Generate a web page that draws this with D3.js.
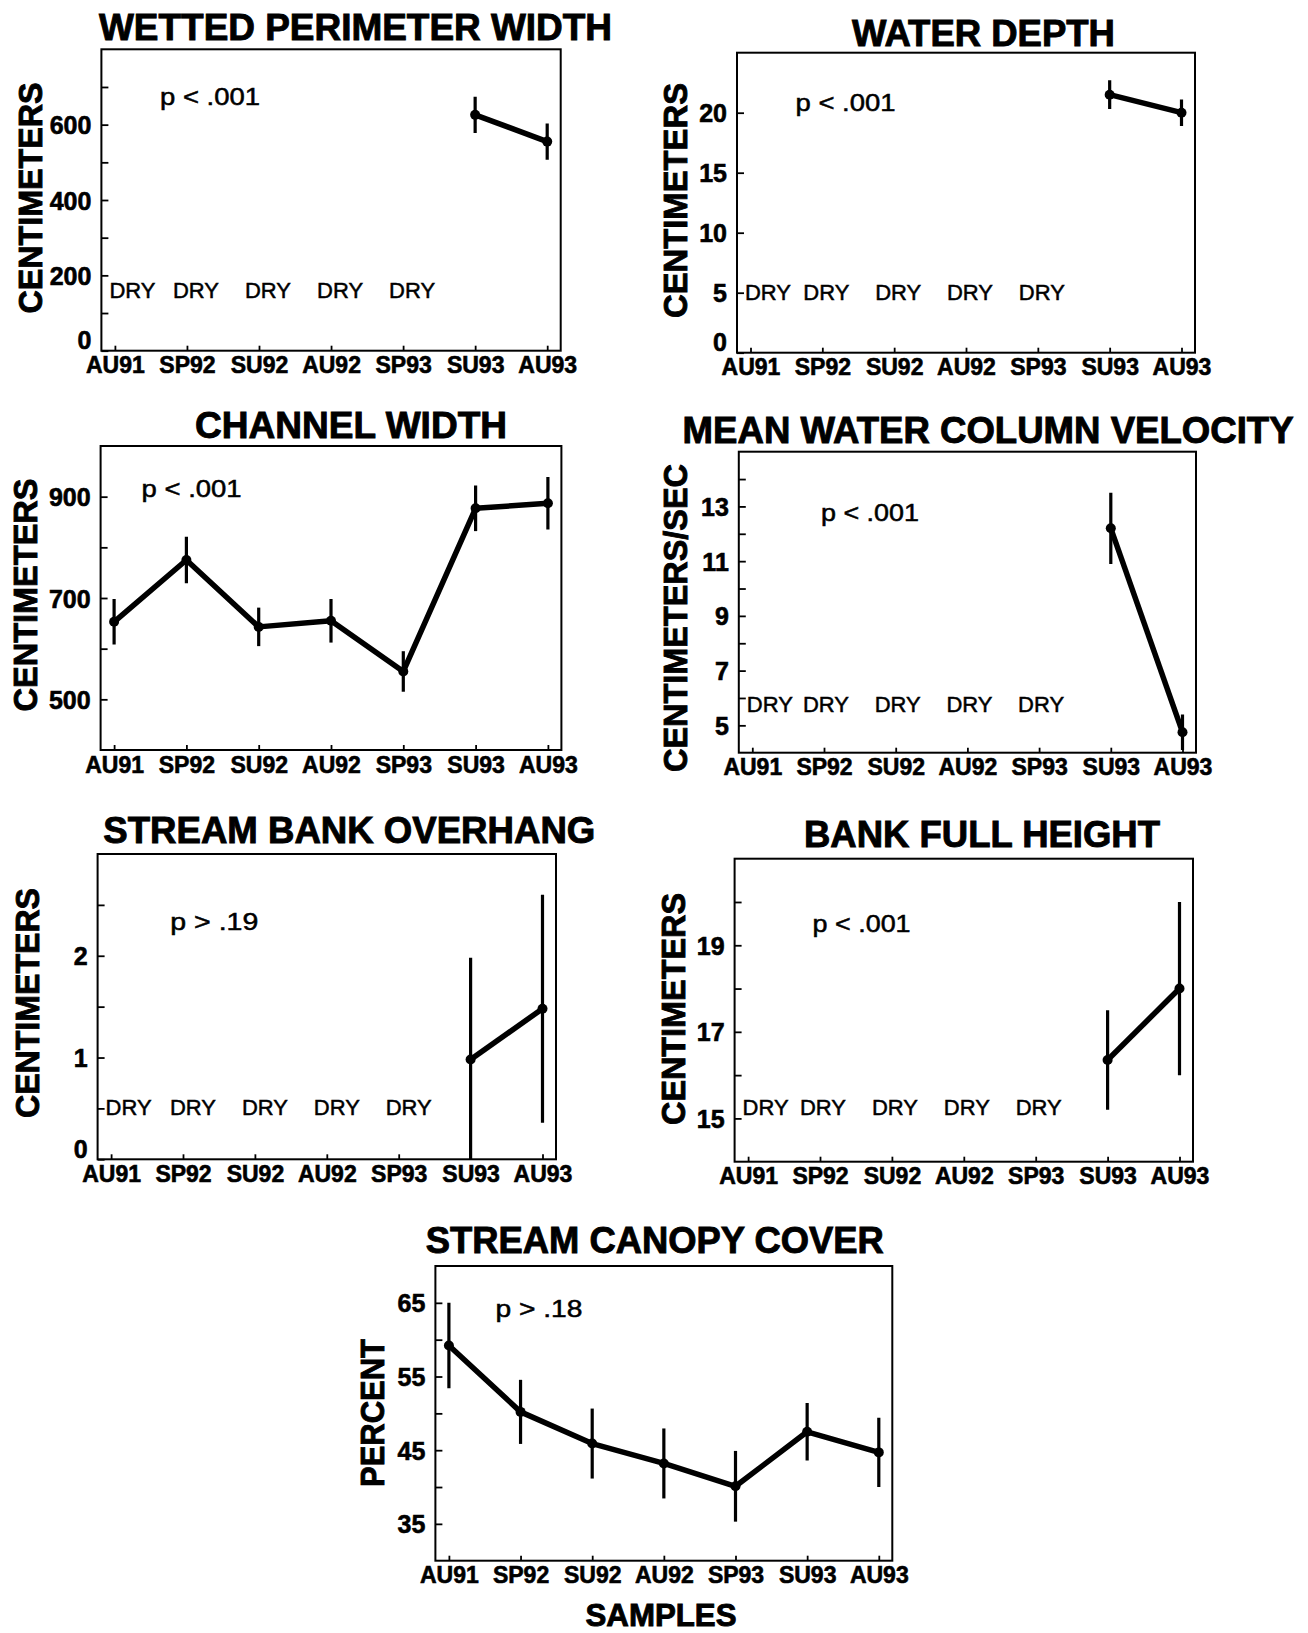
<!DOCTYPE html>
<html><head><meta charset="utf-8">
<script src="https://cdn.jsdelivr.net/npm/d3@7"></script>
<style>body{margin:0;background:#fff;} svg{display:block;background:#fff;}</style>
</head><body>
<svg id="chart" width="1308" height="1633"></svg>
<script>
// ---------- data ----------
const categories = ["AU91", "SP92", "SU92", "AU92", "SP93", "SU93", "AU93"];

const wettedMean = [null, null, null, null, null, 626, 555];
const wettedErr  = [null, null, null, null, null, 48, 48];
const wettedTicks = [0, 100, 200, 300, 400, 500, 600, 700];
const wettedLabels = [0, 200, 400, 600];

const depthMean = [null, null, null, null, null, 21.5, 20.0];
const depthErr  = [null, null, null, null, null, 1.2, 1.1];
const depthTicks = [0, 5, 10, 15, 20];
const depthLabels = [0, 5, 10, 15, 20];

const channelMean = [653, 775, 643, 655, 555, 877, 887];
const channelErr  = [45, 46, 38, 43, 40, 45, 52];
const channelTicks = [500, 600, 700, 800, 900];
const channelLabels = [500, 700, 900];

const velocityMean = [null, null, null, null, null, 12.2, 4.75];
const velocityErr  = [null, null, null, null, null, 1.3, 0.65];
const velocityTicks = [5, 6, 7, 8, 9, 10, 11, 12, 13, 14];
const velocityLabels = [5, 7, 9, 11, 13];

const overhangMean = [null, null, null, null, null, 0.98, 1.48];
const overhangErr  = [null, null, null, null, null, 1.0, 1.12];
const overhangTicks = [0, 0.5, 1, 1.5, 2, 2.5];
const overhangLabels = [0, 1, 2];

const bankMean = [null, null, null, null, null, 16.35, 18.0];
const bankErr  = [null, null, null, null, null, 1.15, 2.0];
const bankTicks = [15, 16, 17, 18, 19, 20];
const bankLabels = [15, 17, 19];

const canopyMean = [59.2, 50.2, 45.9, 43.2, 40.1, 47.5, 44.7];
const canopyErr  = [5.8, 4.35, 4.75, 4.75, 4.8, 3.9, 4.7];
const canopyTicks = [35, 40, 45, 50, 55, 60, 65];
const canopyLabels = [35, 45, 55, 65];

const titles = ["WETTED PERIMETER WIDTH", "WATER DEPTH", "CHANNEL WIDTH",
  "MEAN WATER COLUMN VELOCITY", "STREAM BANK OVERHANG", "BANK FULL HEIGHT", "STREAM CANOPY COVER"];
const yTitles = ["CENTIMETERS", "CENTIMETERS", "CENTIMETERS", "CENTIMETERS/SEC",
  "CENTIMETERS", "CENTIMETERS", "PERCENT"];
const pTexts = ["p < .001", "p < .001", "p < .001", "p < .001", "p > .19", "p < .001", "p > .18"];
const dryText = "DRY";
const xTitle = "SAMPLES";

// ---------- layout ----------
const font = "'Liberation Sans', Arial, Helvetica, sans-serif";
const panels = [
  {i:0, mean:wettedMean, err:wettedErr, ticks:wettedTicks, labels:wettedLabels, domain:[0,800], dryAt:140,
   box:[101.4,49.3,560.7,350.7], tpos:[99,39.5,513], ypos:[30.5,198,231], ppos:[160,105,100], dryShift:9},
  {i:1, mean:depthMean, err:depthErr, ticks:depthTicks, labels:depthLabels, domain:[0,25], dryAt:4.4,
   box:[737,52.7,1195,352.7], tpos:[852,46,263], ypos:[675,200.5,235], ppos:[795.5,111,100], dryShift:4},
  {i:2, mean:channelMean, err:channelErr, ticks:channelTicks, labels:channelLabels, domain:[400,1000], dryAt:null,
   box:[100.6,446,561.4,750], tpos:[195,438.3,312], ypos:[25,595,233], ppos:[141.6,497.3,100], dryShift:9},
  {i:3, mean:velocityMean, err:velocityErr, ticks:velocityTicks, labels:velocityLabels, domain:[4,15], dryAt:5.5,
   box:[738.8,451.7,1196,752.7], tpos:[682.6,443.3,611], ypos:[675,618,308], ppos:[821,520.7,98], dryShift:2},
  {i:4, mean:overhangMean, err:overhangErr, ticks:overhangTicks, labels:overhangLabels, domain:[0,3], dryAt:0.435,
   box:[97.6,854,556,1159.3], tpos:[103.3,842.7,492], ypos:[27,1003,230], ppos:[170.3,930,88], dryShift:10},
  {i:5, mean:bankMean, err:bankErr, ticks:bankTicks, labels:bankLabels, domain:[14,21], dryAt:15.08,
   box:[734.6,858.7,1193,1161.7], tpos:[804,846.7,356], ypos:[673,1009,232], ppos:[812.6,931.7,98], dryShift:3},
  {i:6, mean:canopyMean, err:canopyErr, ticks:canopyTicks, labels:canopyLabels, domain:[30,70], dryAt:null,
   box:[435.4,1266,892.3,1560.7], tpos:[425.8,1253,458], ypos:[372,1413,148], ppos:[495.4,1316.7,87], dryShift:0}
];

const svg = d3.select("#chart");

function heavy(sel, w) {
  return sel.attr("stroke", "#000").attr("stroke-width", w).attr("paint-order", "stroke");
}

function drawPanel(c) {
  const [L, T, R, B] = c.box;
  const x = d3.scalePoint().domain(categories).range([L + 13.5, R - 13.5]);
  const y = d3.scaleLinear().domain(c.domain).range([B, T]);
  const g = svg.append("g");

  // y axis (inward ticks)
  const ya = g.append("g").attr("transform", `translate(${L},0)`)
    .call(d3.axisLeft(y).tickValues(c.ticks).tickSize(-7).tickPadding(10)
      .tickFormat(v => c.labels.includes(v) ? String(v) : ""));
  ya.select(".domain").remove();
  ya.selectAll(".tick line").attr("stroke", "#000").attr("stroke-width", 1.8);
  heavy(ya.selectAll(".tick text").attr("font-family", font).attr("font-weight", "bold")
    .attr("font-size", 25).attr("fill", "#000").attr("dy", "0.36em"), 0.6);
  ya.selectAll(".tick").filter(v => Math.abs(y(v) - B) < 3).select("text").attr("dy", "-0.08em");

  // x axis (inward ticks)
  const xa = g.append("g").attr("transform", `translate(0,${B})`)
    .call(d3.axisBottom(x).tickSize(-5).tickPadding(0));
  xa.select(".domain").remove();
  xa.selectAll(".tick line").attr("stroke", "#000").attr("stroke-width", 1.8);
  heavy(xa.selectAll(".tick text").attr("y", 22.5).attr("dy", null).attr("font-family", font)
    .attr("font-weight", "bold").attr("font-size", 23).attr("fill", "#000"), 0.6);

  // frame
  g.append("rect").attr("x", L).attr("y", T).attr("width", R - L).attr("height", B - T)
    .attr("fill", "none").attr("stroke", "#000").attr("stroke-width", 2);

  // title
  heavy(g.append("text").attr("x", c.tpos[0]).attr("y", c.tpos[1])
    .attr("textLength", c.tpos[2]).attr("lengthAdjust", "spacingAndGlyphs")
    .attr("font-family", font).attr("font-weight", "bold").attr("font-size", 36)
    .text(titles[c.i]), 0.9);

  // y title
  heavy(g.append("text").attr("transform", `translate(${c.ypos[0]},${c.ypos[1]}) rotate(-90)`)
    .attr("text-anchor", "middle").attr("dy", "0.36em")
    .attr("textLength", c.ypos[2]).attr("lengthAdjust", "spacingAndGlyphs")
    .attr("font-family", font).attr("font-weight", "bold").attr("font-size", 33)
    .text(yTitles[c.i]), 0.9);

  // p value
  heavy(g.append("text").attr("x", c.ppos[0]).attr("y", c.ppos[1])
    .attr("textLength", c.ppos[2]).attr("lengthAdjust", "spacingAndGlyphs")
    .attr("font-family", font).attr("font-size", 23).text(pTexts[c.i]), 0.5);

  // DRY labels
  const rowsAll = categories.map((cat, k) => ({cat, mean: c.mean[k], err: c.err[k]}));
  if (c.dryAt !== null) {
    rowsAll.filter(d => d.mean === null).forEach(d => {
      const w = 46;
      let x0 = x(d.cat) + c.dryShift - w / 2;
      x0 = Math.max(x0, L + 8);
      heavy(g.append("text").attr("x", x0).attr("y", y(c.dryAt))
        .attr("textLength", w).attr("lengthAdjust", "spacingAndGlyphs")
        .attr("font-family", font).attr("font-size", 22).text(dryText), 0.5);
    });
  }

  // data
  const rows = rowsAll.filter(d => d.mean !== null);
  const clipId = "clip" + c.i;
  g.append("clipPath").attr("id", clipId).append("rect")
    .attr("x", L).attr("y", T).attr("width", R - L).attr("height", B - T);
  const dg = g.append("g").attr("clip-path", `url(#${clipId})`);

  dg.selectAll("line.err").data(rows).join("line").attr("class", "err")
    .attr("x1", d => x(d.cat)).attr("x2", d => x(d.cat))
    .attr("y1", d => y(d.mean - d.err)).attr("y2", d => y(d.mean + d.err))
    .attr("stroke", "#000").attr("stroke-width", 3.2);

  dg.append("path").datum(rows)
    .attr("d", d3.line().x(d => x(d.cat)).y(d => y(d.mean)))
    .attr("fill", "none").attr("stroke", "#000").attr("stroke-width", 5.5)
    .attr("stroke-linejoin", "round");

  dg.selectAll("circle.pt").data(rows).join("circle").attr("class", "pt")
    .attr("cx", d => x(d.cat)).attr("cy", d => y(d.mean)).attr("r", 5).attr("fill", "#000");
}

panels.forEach(drawPanel);

// shared x title
heavy(svg.append("text").attr("x", 661).attr("y", 1626).attr("text-anchor", "middle")
  .attr("textLength", 151).attr("lengthAdjust", "spacingAndGlyphs")
  .attr("font-family", font).attr("font-weight", "bold").attr("font-size", 32).text(xTitle), 0.9);
</script>
</body></html>
